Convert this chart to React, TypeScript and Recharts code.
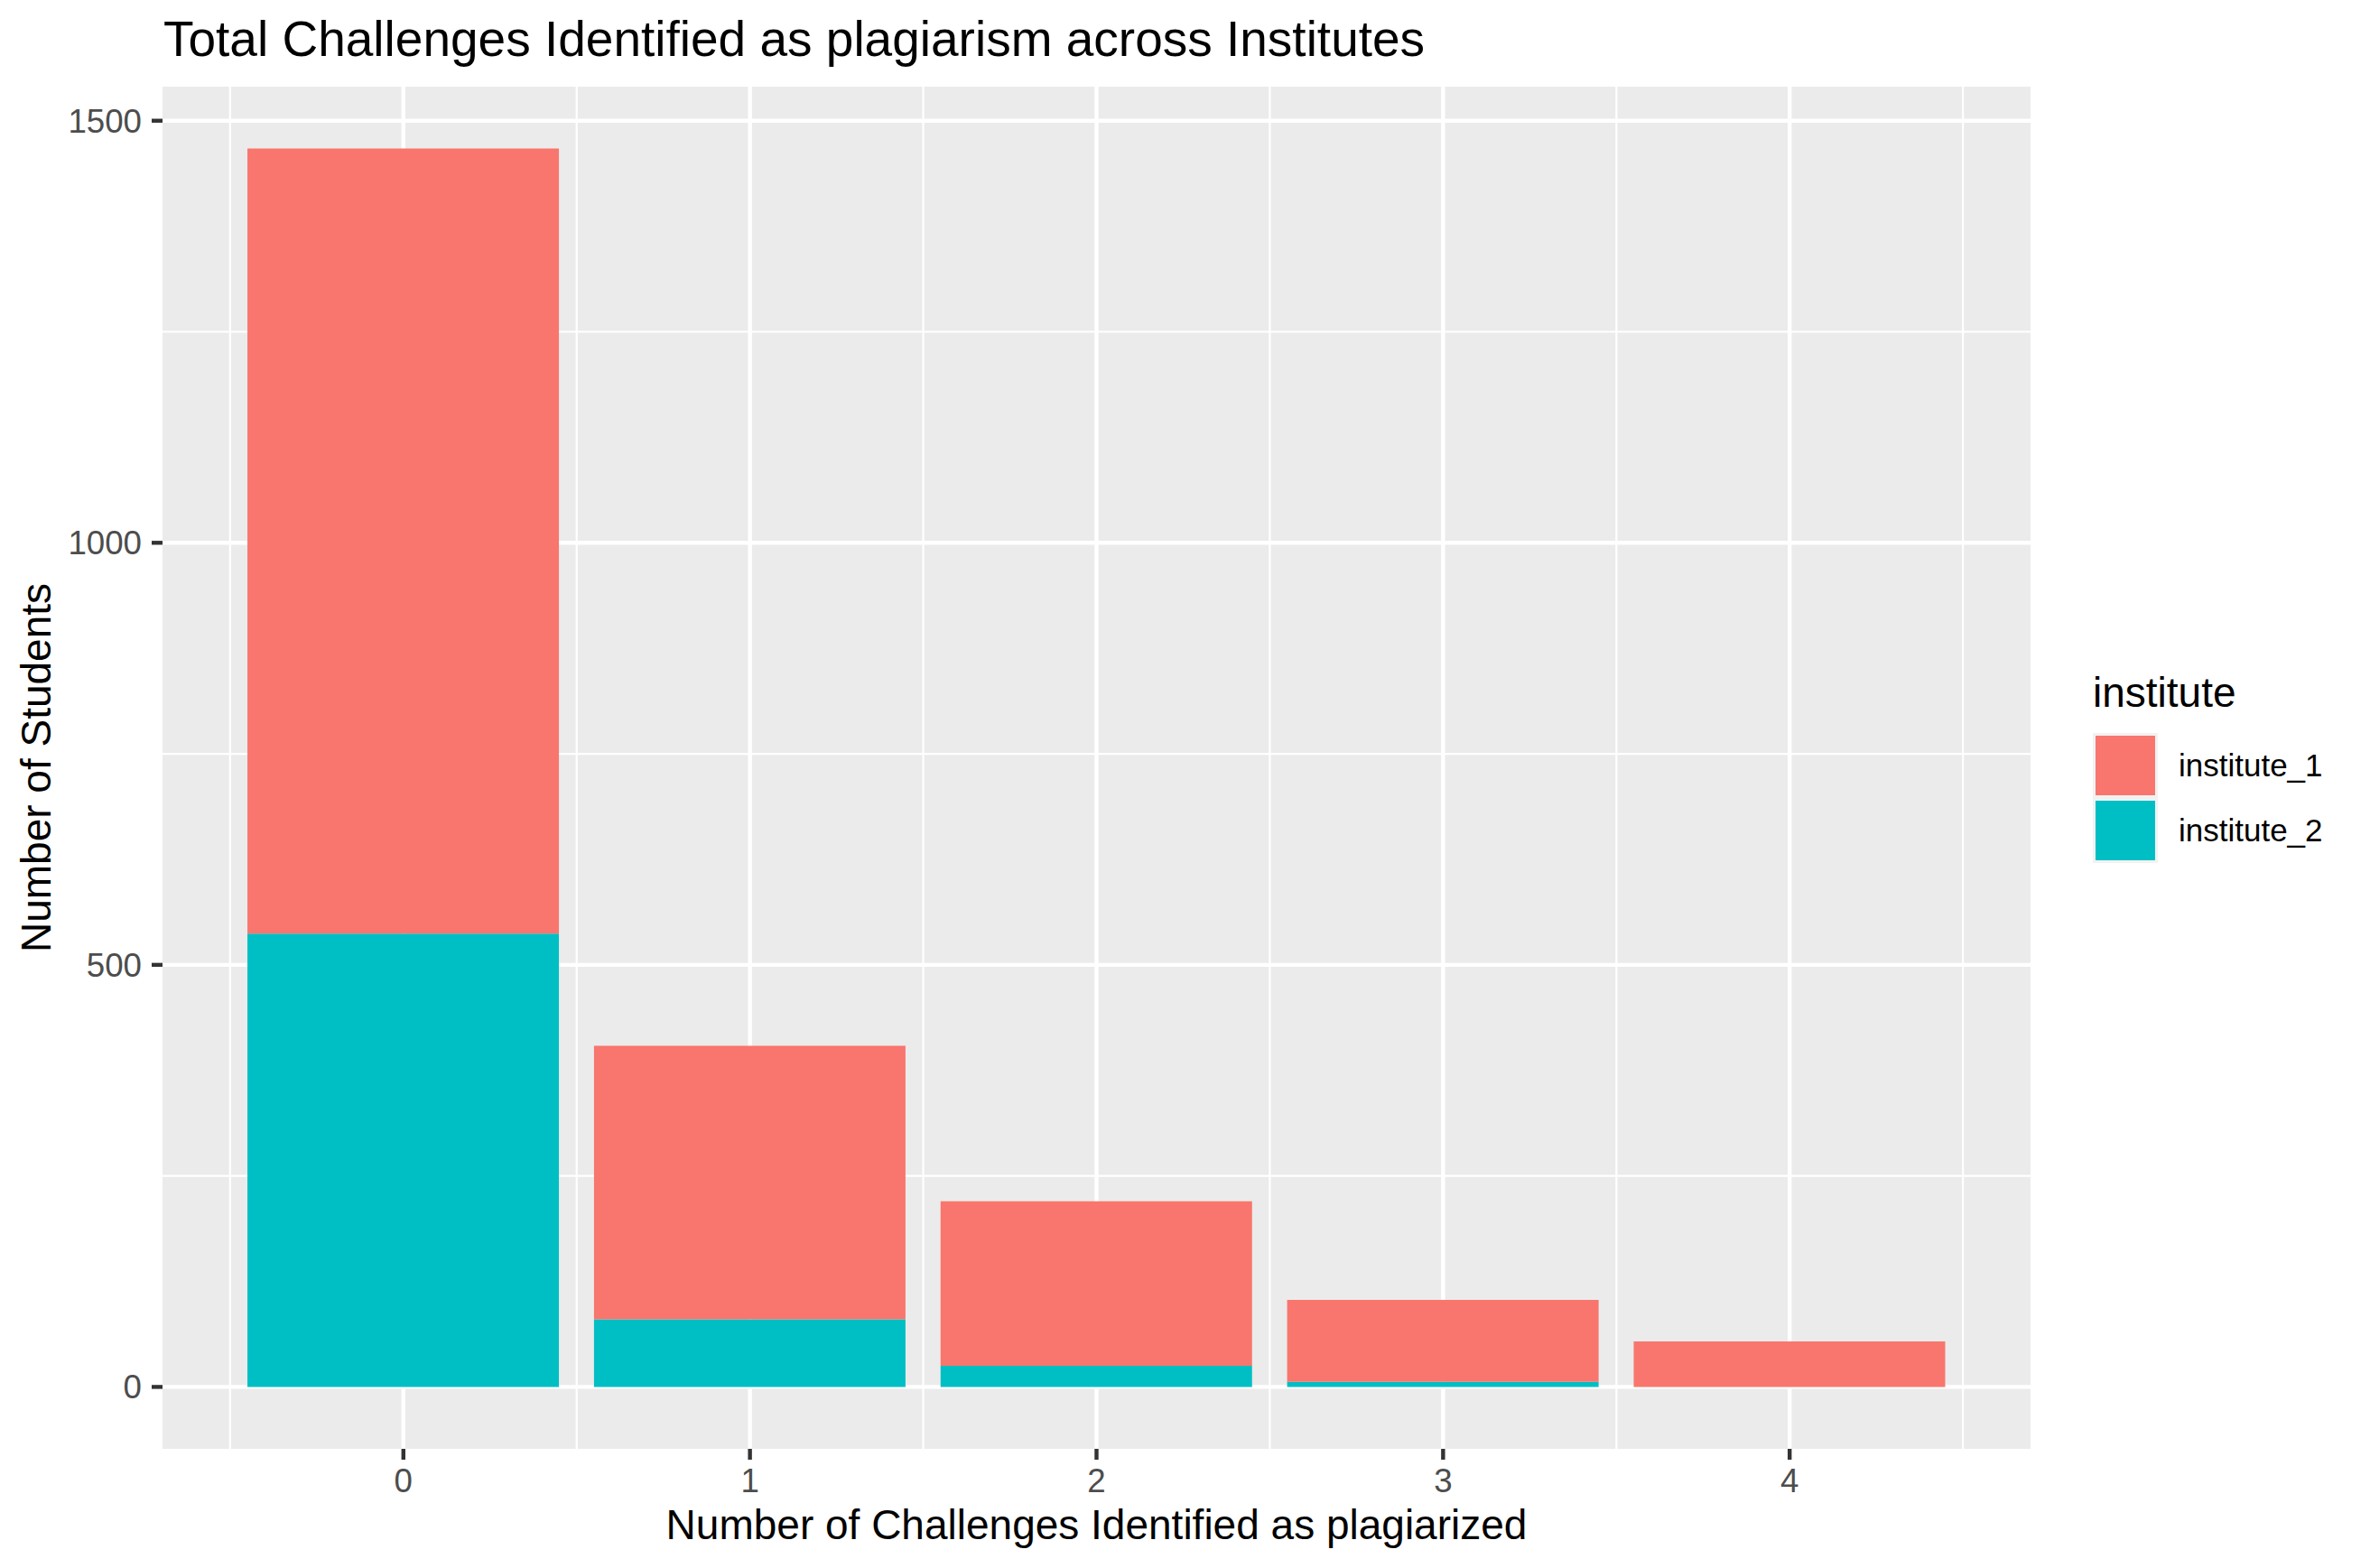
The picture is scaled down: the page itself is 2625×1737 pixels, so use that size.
import { BarChart, Bar, XAxis, YAxis, CartesianGrid, Legend, Label } from 'recharts';

// number of challenges flagged, per bar
const categories = [0, 1, 2, 3, 4];
// students per institute (stacked)
const institute1 = [930, 324, 195, 97, 54];
const institute2 = [537, 80, 25, 6, 0];
const yTicks = [0, 500, 1000, 1500];
const yMinorTicks = [250, 750, 1250];
const xMinorTicks = [-0.5, 0.5, 1.5, 2.5, 3.5, 4.5];

const seriesNames = ['institute_1', 'institute_2'];
const seriesColors: Record<string, string> = { institute_1: '#F8766D', institute_2: '#00BFC4' };

const FONT = '"Liberation Sans", Arial, Helvetica, sans-serif';
const W = 2625;
const H = 1737;

const data = categories.map((c, i) => ({
  n: c,
  institute_1: institute1[i],
  institute_2: institute2[i],
}));

// ggplot-like expansion: 5% on each side of the data range
const totals = data.map((d) => d.institute_1 + d.institute_2);
const yMax = Math.max(...totals);
const yDomain = [-yMax * 0.05, yMax * 1.05];
const xLo = Math.min(...categories) - 0.45;
const xHi = Math.max(...categories) + 0.45;
const xPad = (xHi - xLo) * 0.05;
const xDomain = [xLo - xPad, xHi + xPad];

const tickStyle = { fill: '#4D4D4D', fontSize: 36.7, fontFamily: FONT };
const tickLineStyle = { stroke: '#333333', strokeWidth: 4.4 };

function LegendBox() {
  return (
    <svg width={375} height={260} style={{ display: 'block' }}>
      <text x={68} y={63} fontFamily={FONT} fontSize={46} fill="#000">
        institute
      </text>
      {seriesNames.map((name, i) => (
        <g key={name}>
          <rect x={68} y={92 + i * 72} width={72} height={72} fill="#F2F2F2" />
          <rect x={71} y={95 + i * 72} width={66} height={66} fill={seriesColors[name]} />
          <text x={163} y={140 + i * 72} fontFamily={FONT} fontSize={35} fill="#000">
            {name}
          </text>
        </g>
      ))}
    </svg>
  );
}

export default function App() {
  return (
    <div style={{ position: 'absolute', left: 0, top: 0, width: W, height: H, background: '#fff' }}>
      <svg width={W} height={100} style={{ position: 'absolute', left: 0, top: 0 }}>
        <text x={181} y={62} fontFamily={FONT} fontSize={55} fill="#000">
          Total Challenges Identified as plagiarism across Institutes
        </text>
      </svg>
      <BarChart
        width={W}
        height={H}
        data={data}
        margin={{ top: 96, right: 376, bottom: 0, left: 0 }}
        barCategoryGap="5%"
        style={{ position: 'absolute', left: 0, top: 0 }}
      >
        <CartesianGrid
          fill="#EBEBEB"
          stroke="#FFFFFF"
          strokeWidth={2.2}
          horizontalValues={yMinorTicks}
          verticalValues={xMinorTicks}
        />
        <CartesianGrid
          stroke="#FFFFFF"
          strokeWidth={4.4}
          horizontalValues={yTicks}
          verticalValues={categories}
        />
        <XAxis
          dataKey="n"
          type="number"
          domain={xDomain}
          ticks={categories}
          allowDataOverflow
          axisLine={false}
          tickLine={tickLineStyle}
          tickSize={12}
          tickMargin={10}
          tick={tickStyle}
          height={132}
          interval={0}
        >
          <Label
            content={(props: any) => {
              const vb = props.viewBox || {};
              return (
                <text
                  x={vb.x + vb.width / 2}
                  y={1705}
                  textAnchor="middle"
                  fontFamily={FONT}
                  fontSize={46}
                  fill="#000"
                >
                  Number of Challenges Identified as plagiarized
                </text>
              );
            }}
          />
        </XAxis>
        <YAxis
          type="number"
          domain={yDomain}
          ticks={yTicks}
          allowDataOverflow
          axisLine={false}
          tickLine={tickLineStyle}
          tickSize={12}
          tickMargin={11}
          tick={tickStyle}
          width={180}
          interval={0}
        >
          <Label
            content={(props: any) => {
              const vb = props.viewBox || {};
              const cy = vb.y + vb.height / 2;
              return (
                <text
                  x={56}
                  y={cy}
                  transform={`rotate(-90 56 ${cy})`}
                  textAnchor="middle"
                  fontFamily={FONT}
                  fontSize={46}
                  fill="#000"
                >
                  Number of Students
                </text>
              );
            }}
          />
        </YAxis>
        <Legend
          layout="horizontal"
          verticalAlign="middle"
          align="center"
          wrapperStyle={{ left: 2250, top: 720, width: 375, height: 260 }}
          content={() => <LegendBox />}
        />
        <Bar dataKey="institute_2" stackId="a" fill={seriesColors.institute_2} isAnimationActive={false} />
        <Bar dataKey="institute_1" stackId="a" fill={seriesColors.institute_1} isAnimationActive={false} />
      </BarChart>
    </div>
  );
}
